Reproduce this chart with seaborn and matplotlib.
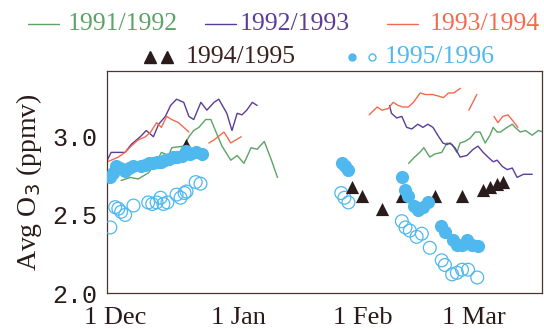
import numpy as np
import pandas as pd
import matplotlib
matplotlib.use("Agg")
import matplotlib.pyplot as plt
import matplotlib.transforms as mtransforms
from matplotlib.lines import Line2D
import seaborn as sns

# days counted from 1 Dec
green_a_day = [3.5, 5.8, 7.8, 10.4, 12.4, 13.6, 15.4, 16.2, 19.2, 20.5, 21.7, 23.0, 24.7, 26.0,
               27.3, 28.8, 31.0, 32.6, 34.3, 36.1, 37.6, 39.4, 41.2, 42.7]
green_a_val = [2.72, 2.74, 2.73, 2.77, 2.84, 2.90, 2.88, 2.93, 2.94, 3.00, 3.04, 3.06, 3.11, 3.11,
               3.03, 2.94, 2.85, 2.88, 2.83, 2.93, 2.92, 2.97, 2.85, 2.74]
green_b_day = [75.6, 77.1, 78.4, 79.4, 80.9, 82.2, 83.9, 85.2, 86.5, 87.7, 88.5, 89.7, 91.0, 92.3,
               93.5, 94.8, 96.0, 96.8, 97.8, 98.6, 100.3, 101.6, 102.3, 103.6, 104.9, 106.6, 108.1, 109.4]
green_b_val = [2.83, 2.87, 2.90, 2.93, 2.87, 2.89, 2.90, 2.96, 2.95, 2.90, 2.96, 2.97, 2.99, 3.03,
               3.03, 2.96, 3.01, 3.06, 3.03, 3.03, 3.06, 3.08, 3.06, 3.03, 3.04, 3.01, 3.04, 3.03]

purple_a_day = [0, 1, 4.5, 6, 8.3, 9.8, 11.6, 12.9, 14.6, 15.9, 17.4, 19.2, 20.5, 21.7, 23.5, 25.0,
                26.8, 28.0, 30.0, 31.3, 32.6, 33.8, 35.0, 36.4, 37.6]
purple_a_val = [2.85, 2.90, 2.90, 2.95, 3.00, 3.04, 3.00, 3.08, 3.13, 3.20, 3.24, 3.22, 3.13, 3.11,
                3.22, 3.17, 3.22, 3.24, 3.15, 3.04, 3.15, 3.14, 3.17, 3.22, 3.20]
purple_b_day = [70.8, 71.3, 72.6, 73.9, 75.1, 76.4, 77.9, 79.2, 80.4, 81.7, 82.9, 84.2, 85.2, 86.0,
                87.2, 88.5, 90.2, 91.8, 93.0, 94.3, 95.5, 96.8, 97.8, 99.1, 100.3, 101.6, 102.8, 104.4, 106.6]
purple_b_val = [3.20, 3.15, 3.12, 3.13, 3.06, 3.05, 3.08, 3.06, 3.08, 3.06, 3.01, 2.96, 2.95, 2.96,
                2.93, 2.87, 2.88, 2.92, 2.94, 2.90, 2.87, 2.84, 2.85, 2.81, 2.79, 2.80, 2.74, 2.76, 2.76]

orange_a_day = [0, 1, 2.8, 4.5, 6, 7.8, 9.6, 10.9, 12.4, 13.6, 14.9, 16.2, 17.9, 19.2, 20.5]
orange_a_val = [2.84, 2.85, 2.87, 2.90, 2.94, 2.98, 3.00, 3.03, 3.09, 3.06, 3.13, 3.11, 3.09, 3.06, 3.03]
orange_b_day = [25.5, 26.8, 29.3, 31.0, 32.3, 33.6]
orange_b_val = [2.96, 2.98, 3.03, 2.96, 2.98, 3.00]
orange_c_day = [65.7, 67.7, 68.9, 70.5, 71.7, 73.0, 74.2, 75.5, 76.8, 78.5, 79.8, 81.6, 83.1, 84.3,
                85.6, 86.9, 88.6]
orange_c_val = [3.14, 3.19, 3.17, 3.18, 3.22, 3.20, 3.19, 3.19, 3.22, 3.28, 3.27, 3.27, 3.26, 3.25,
                3.28, 3.28, 3.31]
orange_d_day = [90.7, 92.7]
orange_d_val = [3.17, 3.27]
orange_e_day = [97.0, 98.0, 99.2, 100.5, 101.8, 103.0]
orange_e_val = [3.13, 3.09, 3.13, 3.14, 3.10, 3.06]

tri_day = [19.7, 61.5, 63.8, 68.8, 73.9, 82.2, 89.0, 94.3, 96.0, 97.8, 99.3]
tri_val = [2.95, 2.68, 2.62, 2.54, 2.62, 2.62, 2.62, 2.66, 2.68, 2.70, 2.71]

fill_day = [0.8, 1.5, 2.3, 3.3, 4.5, 5.5, 6.6, 8.6, 9.6, 10.6, 11.6, 12.6, 13.6, 14.6, 15.6, 16.6,
            17.6, 18.7, 19.7, 20.7, 22.2, 23.7,
            59.0, 59.7, 60.5, 73.9, 74.6, 75.4, 76.9, 77.9, 79.2, 80.4, 83.7, 84.7, 86.7, 87.7,
            89.0, 90.2, 91.5, 93.0]
fill_val = [2.74, 2.77, 2.81, 2.80, 2.78, 2.80, 2.81, 2.81, 2.82, 2.83, 2.83, 2.84, 2.84, 2.85, 2.86,
            2.87, 2.87, 2.88, 2.91, 2.89, 2.90, 2.89,
            2.83, 2.81, 2.79, 2.74, 2.66, 2.62, 2.56, 2.53, 2.55, 2.58, 2.43, 2.39, 2.34, 2.31,
            2.31, 2.34, 2.31, 2.30]

open_day = [0.8, 2.0, 2.8, 3.5, 4.5, 6.6, 10.3, 11.3, 12.4, 13.4, 14.1, 15.1, 17.4, 18.4, 19.4, 19.9,
            22.2, 23.4,
            58.7, 59.5, 60.5, 73.9, 74.8, 75.9, 77.6, 78.9, 80.9, 83.9, 84.7, 86.5, 87.7, 89.0,
            90.5, 92.8]
open_val = [2.42, 2.55, 2.54, 2.52, 2.50, 2.56, 2.58, 2.57, 2.58, 2.61, 2.57, 2.58, 2.63, 2.61, 2.64,
            2.65, 2.71, 2.70,
            2.64, 2.61, 2.58, 2.46, 2.42, 2.40, 2.36, 2.38, 2.29, 2.21, 2.18, 2.12, 2.13, 2.15,
            2.15, 2.10]

month_pos = [0, 31, 62, 90]
month_labels = ["1 Dec", "1 Jan", "1 Feb", "1 Mar"]

c_green = "#5aa464"
c_purple = "#5b3c98"
c_orange = "#f46a4e"
c_blue = "#4fb8ee"
c_tri = "#2a1c1c"
c_axis = "#4a3434"

segs = []
for name, season, d, v in [
    ("ga", "1991/1992", green_a_day, green_a_val),
    ("gb", "1991/1992", green_b_day, green_b_val),
    ("pa", "1992/1993", purple_a_day, purple_a_val),
    ("pb", "1992/1993", purple_b_day, purple_b_val),
    ("oa", "1993/1994", orange_a_day, orange_a_val),
    ("ob", "1993/1994", orange_b_day, orange_b_val),
    ("oc", "1993/1994", orange_c_day, orange_c_val),
    ("od", "1993/1994", orange_d_day, orange_d_val),
    ("oe", "1993/1994", orange_e_day, orange_e_val),
]:
    segs.append(pd.DataFrame({"day": d, "o3": v, "season": season, "seg": name}))
lines = pd.concat(segs, ignore_index=True)

sns.set_style("white")
serif = ["Liberation Serif", "DejaVu Serif"]
plt.rcParams["font.family"] = serif

fig = plt.figure(figsize=(5.44, 3.29), dpi=100)
ax = fig.add_axes([0.197, 0.109, 0.799, 0.675])

sns.lineplot(data=lines, x="day", y="o3", hue="season", units="seg", estimator=None,
             sort=False, palette={"1991/1992": c_green, "1992/1993": c_purple, "1993/1994": c_orange},
             linewidth=1.0, legend=False, ax=ax)
sns.scatterplot(x=open_day, y=open_val, marker="o", s=85, facecolor="none",
                edgecolor=c_blue, linewidth=0.9, ax=ax, zorder=3)
sns.scatterplot(x=tri_day, y=tri_val, marker="^", s=90, color=c_tri, edgecolor=c_tri,
                linewidth=0, ax=ax, zorder=4)
sns.scatterplot(x=fill_day, y=fill_val, marker="o", s=90, color=c_blue, edgecolor=c_blue,
                linewidth=0, ax=ax, zorder=5)

ax.set_xlim(0, 109)
ax.set_ylim(2.0, 3.42)
ax.set_xticks(month_pos)
ax.set_xticks(np.arange(0, 110, 1), minor=True)
ax.set_xticklabels(month_labels, fontsize=19, family=serif, color="#2a1a1a")
ax.set_yticks([2.0, 2.5, 3.0])
ax.set_yticks(np.arange(2.0, 3.41, 0.1), minor=True)
ax.set_yticklabels(["2.0", "2.5", "3.0"], fontsize=18, family=["Liberation Mono"], color="#2a1a1a")
ax.tick_params(axis="both", which="both", direction="in", color=c_axis, width=0.9)
ax.tick_params(axis="x", which="major", length=8, pad=10)
ax.tick_params(axis="x", which="minor", length=4)
ax.tick_params(axis="y", which="major", length=10, pad=7)
ax.tick_params(axis="y", which="minor", length=5)
shift = mtransforms.ScaledTranslation(8 / 100, 0, fig.dpi_scale_trans)
for lab in ax.get_xticklabels():
    lab.set_transform(lab.get_transform() + shift)
for sp in ax.spines.values():
    sp.set_color(c_axis)
    sp.set_linewidth(0.9)
ax.set_xlabel("")
ax.set_ylabel("Avg O$_3$ (ppmv)", fontsize=20, family=serif, color="#2a1a1a", labelpad=6)

# legend drawn by hand in figure coords
ly1, ly2 = 0.927, 0.827
for x0, x1, tx, col, txt in [(0.051, 0.108, 0.125, c_green, "1991/1992"),
                             (0.377, 0.434, 0.441, c_purple, "1992/1993"),
                             (0.711, 0.768, 0.789, c_orange, "1993/1994")]:
    fig.add_artist(Line2D([x0, x1], [ly1, ly1], color=col, lw=1.0, transform=fig.transFigure))
    fig.text(tx, ly1, txt, color=col, fontsize=18.5, va="center", ha="left")
fig.add_artist(Line2D([0.275, 0.307], [ly2, ly2], ls="none", marker="^", ms=8, color=c_tri,
                      transform=fig.transFigure))
fig.text(0.342, ly2, "1994/1995", color="#3a2020", fontsize=18.5, va="center", ha="left")
fig.add_artist(Line2D([0.647], [ly2], ls="none", marker="o", ms=5, color=c_blue,
                      transform=fig.transFigure))
fig.add_artist(Line2D([0.684], [ly2], ls="none", marker="o", ms=5, mfc="none", mec=c_blue,
                      mew=1.0, transform=fig.transFigure))
fig.text(0.708, ly2, "1995/1996", color=c_blue, fontsize=18.5, va="center", ha="left")

fig.savefig("out.png", dpi=100)
